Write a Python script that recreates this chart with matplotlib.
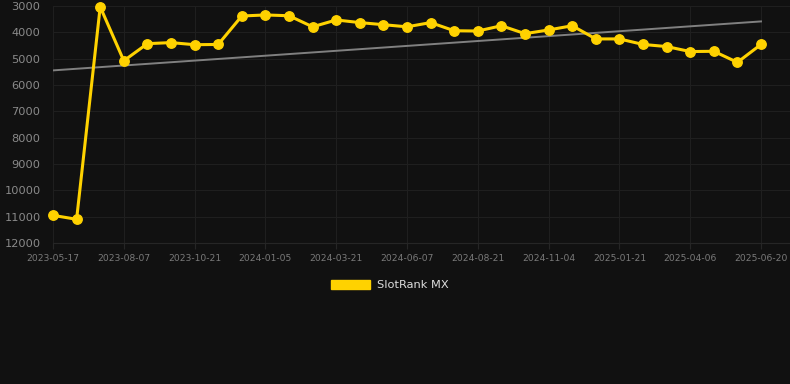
import numpy as np
import matplotlib
matplotlib.use("Agg")
import matplotlib.pyplot as plt
from matplotlib.patches import Patch

# rank values (lower is better, axis is inverted)
rank = [10950, 11100, 3030, 5080, 4430, 4390, 4470, 4460, 3380, 3340,
        3370, 3790, 3530, 3630, 3710, 3790, 3630, 3940, 3950, 3750,
        4050, 3910, 3750, 4250, 4250, 4460, 4540, 4730, 4720, 5140,
        4460]
tick_labels = ["2023-05-17", "2023-08-07", "2023-10-21", "2024-01-05", "2024-03-21",
               "2024-06-07", "2024-08-21", "2024-11-04", "2025-01-21", "2025-04-06",
               "2025-06-20"]
y_ticks = [3000, 4000, 5000, 6000, 7000, 8000, 9000, 10000, 11000, 12000]

bg = "#111111"
gold = "#FFD200"

x = np.arange(len(rank))
fig = plt.figure(figsize=(7.9, 3.84), dpi=100, facecolor=bg)
W, H = 790, 384
ax = fig.add_axes([53 / W, 1 - 243 / H, (W - 53) / W, (243 - 6) / H])
ax.set_facecolor(bg)

## trend line (least squares fit)
k, b = np.polyfit(x, rank, 1)
ax.plot(x, k * x + b, color="#808080", lw=1.4, zorder=2)

ax.plot(x, rank, color=gold, lw=2.2, marker="o", ms=6.8, zorder=3, clip_on=False)

ax.set_ylim(12000, 3000)
ax.set_xlim(0, 30 + (W - 761) / 23.6)
ax.set_yticks(y_ticks)
ax.set_yticklabels([str(v) for v in y_ticks])
ax.set_xticks(x[::3])
ax.set_xticklabels(tick_labels)

ax.grid(True, color="#1f1f1f", lw=0.8)
for s in ["top", "right", "left"]:
    ax.spines[s].set_visible(False)
ax.spines["bottom"].set_color("#262626")
ax.tick_params(axis="y", length=0, colors="#8a8a8a", labelsize=8.2, pad=9)
ax.tick_params(axis="x", length=4, color="#262626", colors="#7a7a7a", labelsize=6.6, pad=4)

fig.legend(handles=[Patch(facecolor=gold, edgecolor=gold, label="SlotRank MX")],
           loc="center", bbox_to_anchor=(390 / W, 1 - 285 / H), frameon=False,
           fontsize=8.2, labelcolor="#dddddd", handlelength=3.4, handleheight=0.95,
           handletextpad=0.6)

fig.savefig("out.png", dpi=100, facecolor=bg)
